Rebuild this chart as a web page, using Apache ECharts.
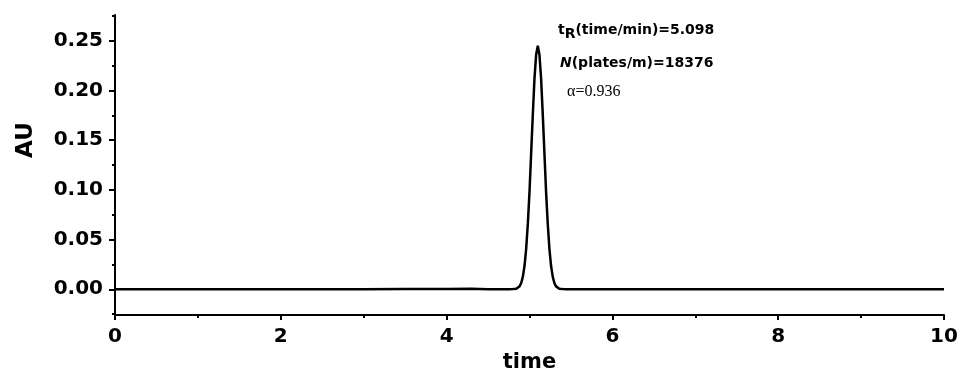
<!DOCTYPE html>
<html>
<head>
<meta charset="utf-8">
<title>chromatogram</title>
<script src="https://cdn.jsdelivr.net/npm/echarts/dist/echarts.min.js"></script>
<style>
  html, body { margin: 0; padding: 0; background: #fff; }
  #main { width: 964px; height: 378px; }
</style>
</head>
<body>
<!-- chart container -->
<div id="main"></div>
<script>
  // retention time (min)
  var timeData = [0, 1, 2, 3, 3.5, 4, 4.3, 4.5, 4.6, 4.7, 4.75,
    4.80, 4.82, 4.84, 4.86, 4.88, 4.90, 4.92, 4.94, 4.96, 4.98,
    5.00, 5.02, 5.04, 5.06, 5.08, 5.10, 5.12, 5.14, 5.16, 5.18,
    5.20, 5.22, 5.24, 5.26, 5.28, 5.30, 5.32, 5.34, 5.36, 5.40,
    5.45, 5.6, 6, 7, 8, 9, 10];
  // absorbance (AU)
  var auData = [0, 0, 0, 0, 0.0003, 0.0002, 0.0004, 0, 0, 0.0001, 0.0001,
    0.0002, 0.0003, 0.0005, 0.0013, 0.0029, 0.0063, 0.0127, 0.0236, 0.041, 0.066,
    0.098, 0.137, 0.176, 0.212, 0.236, 0.245, 0.236, 0.212, 0.176, 0.137,
    0.098, 0.066, 0.041, 0.0236, 0.0127, 0.0063, 0.0029, 0.0013, 0.0005, 0.0002,
    0.0001, 0.0001, 0.0001, 0.0001, 0, 0, 0];

  var yMajorTicks = [0, 0.05, 0.10, 0.15, 0.20, 0.25];
  var yMinorTicks = [-0.025, 0.025, 0.075, 0.125, 0.175, 0.225, 0.275];

  var tRText = '5.098';
  var plateText = '18376';
  var alphaText = '0.936';

  var font = '"DejaVu Sans", "Liberation Sans", Arial, sans-serif';

  var seriesData = [];
  for (var i = 0; i < timeData.length; i++) {
    seriesData.push([timeData[i], auData[i]]);
  }

  var myChart = echarts.init(document.getElementById('main'));
  var option = {
    animation: false,
    grid: {
      left: 115,
      right: 20,
      top: 15,
      bottom: 59
    },
    xAxis: {
      type: 'value',
      min: 0,
      max: 10,
      interval: 2,
      name: 'time',
      nameLocation: 'middle',
      nameGap: 35,
      nameTextStyle: { color: '#000', fontFamily: font, fontWeight: 'bold', fontSize: 21 },
      axisLine: { onZero: false, lineStyle: { color: '#000', width: 2 } },
      axisTick: { length: 5, lineStyle: { color: '#000', width: 2 } },
      minorTick: { show: true, splitNumber: 2, length: 3, lineStyle: { color: '#000', width: 2 } },
      axisLabel: { color: '#000', fontFamily: font, fontWeight: 'bold', fontSize: 20, margin: 12 },
      splitLine: { show: false }
    },
    yAxis: [{
      type: 'value',
      min: -0.026,
      max: 0.276,
      axisLine: { show: true, onZero: false, lineStyle: { color: '#000', width: 2 } },
      axisTick: { show: true, length: 6, customValues: yMajorTicks, lineStyle: { color: '#000', width: 2 } },
      axisLabel: {
        color: '#000', fontFamily: font, fontWeight: 'bold', fontSize: 20, margin: 12,
        customValues: yMajorTicks,
        formatter: function (v) { return v.toFixed(2); }
      },
      splitLine: { show: false }
    }, {
      // second axis only carries the short minor ticks
      type: 'value',
      position: 'left',
      min: -0.026,
      max: 0.276,
      axisLine: { show: false },
      axisTick: { show: true, length: 3, customValues: yMinorTicks, lineStyle: { color: '#000', width: 2 } },
      axisLabel: { show: false },
      splitLine: { show: false }
    }],
    series: [{
      type: 'line',
      data: seriesData,
      showSymbol: false,
      lineStyle: { color: '#000', width: 2.5 }
    }],
    graphic: [{
      type: 'text',
      x: 26,
      y: 140,
      rotation: Math.PI / 2,
      style: {
        text: 'AU',
        font: 'bold 23px ' + font,
        fill: '#000',
        align: 'center',
        verticalAlign: 'middle'
      }
    }, {
      type: 'text',
      x: 558,
      y: 30,
      style: {
        text: '{b|t}{r|R}{b|(time/min)=' + tRText + '}',
        fill: '#000',
        verticalAlign: 'middle',
        rich: {
          b: { fontFamily: font, fontWeight: 'bold', fontSize: 14, fill: '#000' },
          r: { fontFamily: font, fontWeight: 'bold', fontSize: 14, fill: '#000', padding: [8, 0, 0, 0] }
        }
      }
    }, {
      type: 'text',
      x: 560,
      y: 63,
      style: {
        text: '{i|N}{b|(plates/m)=' + plateText + '}',
        fill: '#000',
        verticalAlign: 'middle',
        rich: {
          i: { fontFamily: font, fontWeight: 'bold', fontStyle: 'italic', fontSize: 14, fill: '#000' },
          b: { fontFamily: font, fontWeight: 'bold', fontSize: 14, fill: '#000' }
        }
      }
    }, {
      type: 'text',
      x: 567,
      y: 92,
      style: {
        text: '\u03b1=' + alphaText,
        font: '16px "Liberation Serif", "Times New Roman", serif',
        fill: '#000',
        verticalAlign: 'middle'
      }
    }]
  };
  myChart.setOption(option, true);
</script>
</body>
</html>
